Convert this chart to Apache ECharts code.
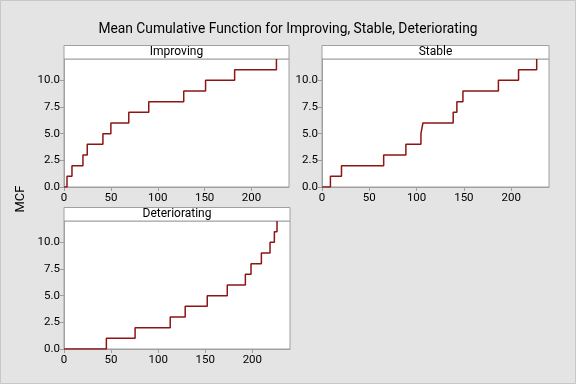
<!DOCTYPE html>
<html>
<head>
<meta charset="utf-8">
<script src="https://cdn.jsdelivr.net/npm/echarts@6/dist/echarts.min.js"></script>
<style>
html,body{margin:0;padding:0;background:#e4e4e4;}
#c{width:576px;height:384px;}
</style>
</head>
<body>
<div id="c"></div>
<script>
// ---- data ----
const panelNames = ['Improving', 'Stable', 'Deteriorating'];
const xTicks = [0, 50, 100, 150, 200];
const yTicks = [0, 2.5, 5, 7.5, 10];
// event times (x) and MCF values (y) for each group
const improvingX = [0, 3.2, 8.5, 20.2, 24.8, 41.5, 50, 69.1, 90.4, 127.7, 151, 182, 226.6];
const improvingY = [0, 1, 2, 3, 4, 5, 6, 7, 8, 9, 10, 11, 12];
const stableX = [0, 8.9, 20.6, 65.2, 88.7, 104.6, 106.7, 138.7, 142.6, 149, 186.5, 207.8, 227];
const stableY = [0, 1, 2, 3, 4, 5, 6, 7, 8, 9, 10, 11, 12];
const deterioratingX = [0, 45, 75.5, 112.8, 128.7, 152.1, 173.4, 192.6, 198.6, 209.6, 218.8, 223.4, 226.2];
const deterioratingY = [0, 1, 2, 3, 4, 5, 6, 7, 8, 9, 10, 11, 12];

const FONT = 'Roboto';
const LINE = '#8c1515';
const BORDER = '#a0a0a0';

const grids = [
  {left: 64, top: 59, width: 225, height: 128},
  {left: 322, top: 59, width: 227, height: 128},
  {left: 64, top: 221, width: 226, height: 128}
];
const stripH = 13.5;

function pairs(xs, ys) { return xs.map((x, i) => [x, ys[i]]); }
const seriesData = [pairs(improvingX, improvingY), pairs(stableX, stableY), pairs(deterioratingX, deterioratingY)];

const option = {
  backgroundColor: '#e4e4e4',
  animation: false,
  title: {
    text: 'Mean Cumulative Function for Improving, Stable, Deteriorating',
    left: 'center', top: 18,
    textStyle: {fontFamily: FONT, fontSize: 13.8, fontWeight: 'normal', color: '#000'}
  },
  grid: grids.map(g => Object.assign({show: true, backgroundColor: '#fff', borderColor: BORDER, borderWidth: 1, outerBoundsMode: 'none', containLabel: false}, g)),
  xAxis: grids.map((g, i) => ({
    type: 'value', gridIndex: i, min: 0, max: 240,
    axisLine: {show: true, lineStyle: {color: BORDER}},
    axisTick: {show: true, length: 4, lineStyle: {color: BORDER}, customValues: xTicks},
    axisLabel: {fontFamily: FONT, fontSize: 11.5, color: '#000', margin: 5, customValues: xTicks},
    splitLine: {show: false}
  })),
  yAxis: grids.map((g, i) => ({
    type: 'value', gridIndex: i, min: 0, max: 12,
    axisLine: {show: true, lineStyle: {color: BORDER}},
    axisTick: {show: true, length: 4, lineStyle: {color: BORDER}, customValues: yTicks},
    axisLabel: {fontFamily: FONT, fontSize: 11.5, color: '#000', margin: 4, customValues: yTicks,
      formatter: v => v.toFixed(1)},
    splitLine: {show: false}
  })),
  series: seriesData.map((d, i) => ({
    type: 'line', xAxisIndex: i, yAxisIndex: i, step: 'end', data: d,
    showSymbol: false, symbol: 'none',
    lineStyle: {color: LINE, width: 1.5}, clip: true
  })),
  graphic: [
    ...grids.map((g, i) => ({
      type: 'rect',
      shape: {x: g.left, y: g.top - stripH, width: g.width, height: stripH},
      style: {fill: '#fff', stroke: BORDER, lineWidth: 1}
    })),
    ...grids.map((g, i) => ({
      type: 'text',
      x: g.left + g.width / 2, y: g.top - stripH / 2,
      style: {text: panelNames[i], fontFamily: FONT, fontSize: 12, fill: '#000', align: 'center', verticalAlign: 'middle'}
    })),
    {
      type: 'text', x: 21, y: 199, rotation: Math.PI / 2,
      style: {text: 'MCF', fontFamily: FONT, fontSize: 13, fill: '#000', align: 'center', verticalAlign: 'middle'}
    },
    {
      type: 'rect', shape: {x: 0.5, y: 0.5, width: 575, height: 383},
      style: {fill: 'none', stroke: '#c8c8c8', lineWidth: 1}
    }
  ]
};
const chart = echarts.init(document.getElementById('c'), null, {renderer: 'canvas'});
chart.setOption(option);
</script>
</body>
</html>
